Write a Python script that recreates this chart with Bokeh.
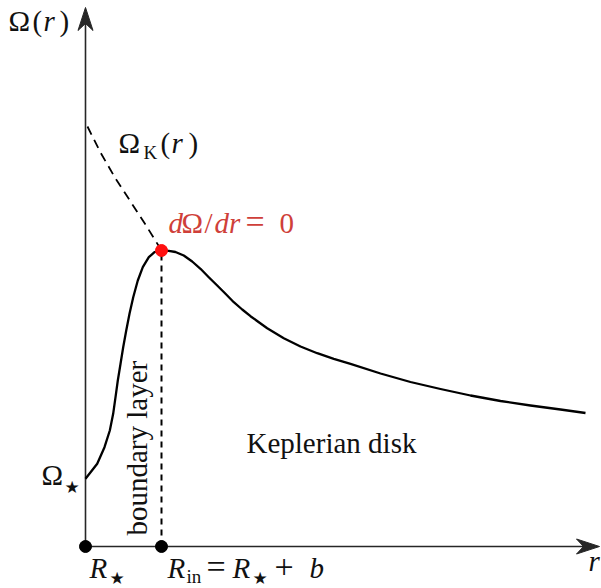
import math
from bokeh.plotting import figure
from bokeh.models import Range1d, Label
from bokeh.embed import file_html
from bokeh.resources import INLINE

# Rotation curve Omega(r) through the boundary layer into the disk (r in units of R_star)
r_curve = [1.000, 1.154, 1.250, 1.320, 1.364, 1.395, 1.425, 1.461, 1.496, 1.536,
           1.579, 1.628, 1.688, 1.754, 1.833, 1.908, 2.000, 2.096, 2.184, 2.293,
           2.404, 2.513, 2.622, 2.733, 2.842, 2.951, 3.062, 3.171, 3.391, 3.609,
           3.829, 4.049, 4.267, 4.487, 4.882, 5.276, 5.671, 6.066, 6.461, 6.855,
           7.250, 7.579]
omega_curve = [0.677, 0.827, 0.993, 1.160, 1.327, 1.493, 1.660, 1.827, 1.993, 2.160,
               2.327, 2.493, 2.660, 2.793, 2.893, 2.943, 2.960, 2.957, 2.945, 2.910,
               2.850, 2.777, 2.693, 2.610, 2.527, 2.443, 2.370, 2.303, 2.183, 2.083,
               2.000, 1.933, 1.877, 1.827, 1.730, 1.645, 1.575, 1.510, 1.455, 1.410,
               1.370, 1.335]

# Keplerian profile Omega_K(r) inside R_in
r_kepler = [1.026, 1.197, 1.395, 1.592, 1.789, 2.000]
omega_kepler = [4.20, 3.94, 3.68, 3.45, 3.22, 2.96]

# Marked radii on the r axis and the turnover point
r_star = 1.0
r_in = 2.0
omega_peak = 2.96

W, H = 601, 588
PX_R = 76.0     # pixels per unit of r
PX_W = 100.0    # pixels per unit of Omega
X0 = 85         # pixel column of r = R_star
Y0 = 546        # pixel row of Omega = 0

x_start = r_star - X0 / PX_R
y_start = -(H - Y0) / PX_W

p = figure(width=W, height=H, output_backend="svg", toolbar_location=None,
           x_axis_type=None, y_axis_type=None,
           x_range=Range1d(x_start, x_start + W / PX_R),
           y_range=Range1d(y_start, y_start + H / PX_W),
           min_border=0, min_border_left=0, min_border_right=0,
           min_border_top=0, min_border_bottom=0)
p.outline_line_color = None
p.xgrid.visible = False
p.ygrid.visible = False
p.background_fill_color = "white"
p.border_fill_color = "white"

AXIS = "#262626"
r_axis_end = r_star + (599 - X0) / PX_R
omega_axis_end = (Y0 - 7) / PX_W

# coordinate axes
p.line([r_star, r_axis_end - 12 / PX_R], [0, 0], line_color=AXIS, line_width=1.6)
p.line([r_star, r_star], [0, omega_axis_end - 12 / PX_W], line_color=AXIS, line_width=1.6)

# stealth-style arrow heads, shape given in pixels along / across the axis
along = [0, -23, -16, -23]
across = [0, 7.5, 0, -7.5]
p.patch([r_axis_end + a / PX_R for a in along], [c / PX_W for c in across],
        fill_color=AXIS, line_color=AXIS, line_width=1)
p.patch([r_star + c / PX_R for c in across], [omega_axis_end + a / PX_W for a in along],
        fill_color=AXIS, line_color=AXIS, line_width=1)

# Keplerian branch and the boundary-layer edge
p.line(r_kepler, omega_kepler, line_color="black", line_width=1.8, line_dash="9 6")
p.line([r_in, r_in], [0, omega_peak], line_color="black", line_width=2, line_dash="6 5")

# rotation curve
p.line(r_curve, omega_curve, line_color="black", line_width=2.3, line_join="round")

# markers
p.scatter([r_star, r_in], [0, 0], size=12, fill_color="black", line_color="black")
p.scatter([r_in], [omega_peak], size=12, fill_color="#ff1010", line_color="#ff1010")

SERIF = "Liberation Serif"
STAR_FONT = "DejaVu Sans"
INK = "#111111"
RED = "#cf3f3a"
STAR = "★"


def put(text, px, py, size=29, style="normal", color=INK, font=SERIF, angle=0.0):
    # (px, py): left end of the baseline, counted from the top-left corner
    k = 0.35 * size
    sx = px - k * math.sin(angle)
    sy = py - k * math.cos(angle)
    p.add_layout(Label(x=sx, y=H - sy, x_units="screen", y_units="screen",
                       text=text, text_font=font, text_font_size=f"{size}px",
                       text_font_style=style, text_color=color,
                       text_align="left", text_baseline="alphabetic", angle=angle))


# Omega(r) axis title
put("Ω", 8, 31)
put("(", 32, 31)
put("r", 43, 31, style="italic")
put(")", 59, 31)

# Omega_K(r)
put("Ω", 118, 153)
put("K", 143, 159, size=19)
put("(", 160, 153)
put("r", 171, 153, style="italic")
put(")", 188, 153)

# dOmega/dr = 0
put("d", 168, 233, style="italic", color=RED)
put("Ω", 181, 233, color=RED)
put("/", 204, 233, color=RED)
put("dr", 214, 233, style="italic", color=RED)
put("=", 245, 233, size=34, color=RED)
put("0", 279, 233, color=RED)

# Omega_star
put("Ω", 41, 485)
put(STAR, 64, 492, size=17, font=STAR_FONT)

# r-axis labels
put("R", 89, 578, style="italic")
put(STAR, 109, 583, size=17, font=STAR_FONT)
put("R", 167, 578, style="italic")
put("in", 186, 583, size=19)
put("=", 206, 578, size=34)
put("R", 232, 578, style="italic")
put(STAR, 252, 583, size=17, font=STAR_FONT)
put("+", 274, 578, size=34)
put("b", 309, 578, style="italic")
put("r", 588, 571, style="italic")

# region names
put("Keplerian disk", 246, 453)
put("boundary layer", 147, 535, angle=math.pi / 2)

open("out.html", "w").write(file_html(p, INLINE))
